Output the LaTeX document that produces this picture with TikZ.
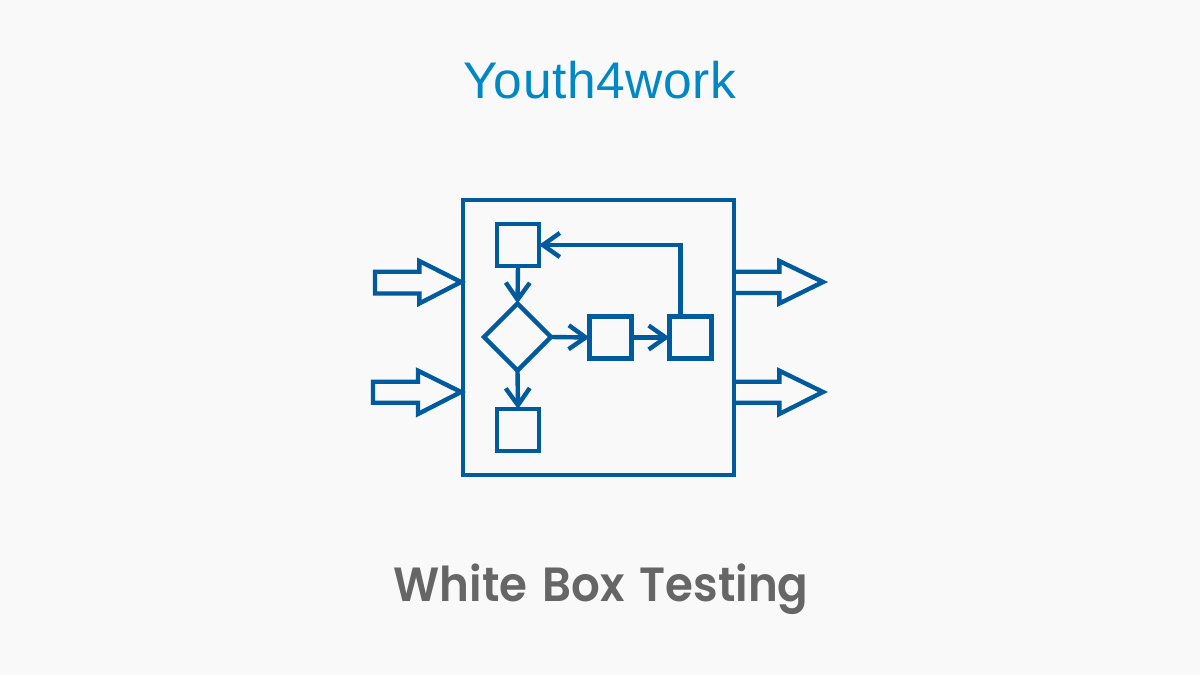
\documentclass[tikz,border=0pt]{standalone}
\usepackage{fontspec}
\setmainfont{Liberation Sans}
\newfontfamily\brandfont[LetterSpace=1.2]{Liberation Sans}
\newfontfamily\captfont[BoldFont=Poppins SemiBold,FakeStretch=0.94,WordSpace=1.4]{Poppins}
\usetikzlibrary{arrows.meta,shapes.geometric}
\definecolor{bgc}{HTML}{F9F9F9}
\definecolor{flow}{HTML}{005A9E}
\definecolor{brand}{HTML}{0088C6}
\definecolor{capt}{HTML}{666666}
\tikzset{
  every node/.style={inner sep=0pt,outer sep=0pt},
  stepbox/.style={draw=flow,line width=4.4pt,minimum width=42pt,minimum height=42pt,anchor=center},
  decision/.style={diamond,draw=flow,line width=4.4pt,minimum width=67pt,minimum height=67pt,shape aspect=1,anchor=center},
  outerbox/.style={draw=flow,line width=4.6pt,minimum width=271pt,minimum height=275pt,anchor=center},
  flowline/.style={draw=flow,line width=4.4pt,-{Straight Barb[length=17pt,width=24pt,line width=4.4pt]}},
  block/.style={draw=flow,line width=4.4pt,line join=miter,miter limit=10},
}
\begin{document}
\begin{tikzpicture}[x=1pt,y=-1pt]
\useasboundingbox (0,0) rectangle (1200,675);
\fill[bgc] (0,0) rectangle (1200,675);
\node[text=brand,font=\fontsize{51.5}{60}\brandfont] (brandname) at (600,80) {Youth4work};
\node[text=capt,font=\fontsize{48}{60}\captfont\bfseries,anchor=base] (caption) at (601,601.7) {White Box Testing};
\node[outerbox] (main) at (598.5,337.5) {};
\node[stepbox] (b1) at (518,245) {};
\node[stepbox] (b4) at (518,430) {};
\node[stepbox] (b2) at (610.5,337.5) {};
\node[stepbox] (b3) at (690.5,337.5) {};
\node[decision] (d) at (517.5,337) {};
\draw[flowline] (b1.south) -- (d.north);
\draw[flowline] (d.south) -- (b4.north);
\draw[flowline] (d.east) -- (b2.west);
\draw[flowline] (b2.east) -- (b3.west);
\draw[flowline] (b3.north -| 680.5,0) -- (680.5,245) -- (b1.east);
\draw[block] (375,271.7) -- (419.3,271.7) -- (419.3,261) -- (461,282) -- (419.3,303.5) -- (419.3,293.5) -- (375,293.5) -- cycle;
\draw[block] (373,381.7) -- (418,381.7) -- (418,370.7) -- (461,392) -- (418,414) -- (418,402.7) -- (373,402.7) -- cycle;
\draw[block] (735,271.7) -- (779.3,271.7) -- (779.3,261) -- (823,282) -- (779.3,303.5) -- (779.3,293) -- (735,293);
\draw[block] (735,381.7) -- (779.3,381.7) -- (779.3,370.7) -- (823,392) -- (779.3,414) -- (779.3,402.7) -- (735,402.7);
\end{tikzpicture}
\end{document}
